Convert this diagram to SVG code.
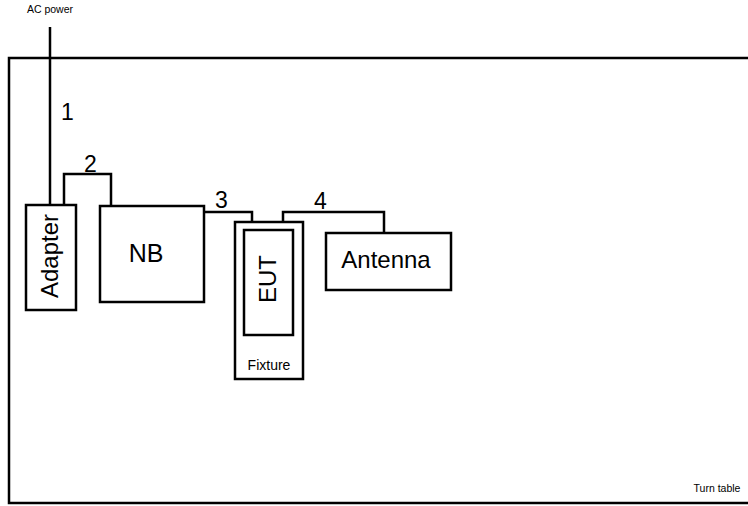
<svg xmlns="http://www.w3.org/2000/svg" width="748" height="506" viewBox="0 0 748 506">
<style>
.b{fill:none;stroke:#000;stroke-width:2.5}
.w{fill:none;stroke:#000;stroke-width:2.5}
text{font-family:"Liberation Sans",Arial,sans-serif;fill:#000}
.num{font-size:23px}
.big{font-size:24px}
.sm{font-size:10.5px}
</style>
<rect width="748" height="506" fill="#fff"/>
<g id="turntable">
<path class="b" d="M750,58 H9 V503 H750"/>
<text class="sm" x="717" y="492" text-anchor="middle">Turn table</text>
</g>
<g id="acpower">
<text class="sm" x="50" y="12.5" text-anchor="middle">AC power</text>
</g>
<g id="adapter">
<rect class="b" x="26" y="205" width="50" height="105"/>
<text class="big" transform="translate(58,256) rotate(-90)" text-anchor="middle">Adapter</text>
</g>
<g id="nb">
<rect class="b" x="100" y="206" width="104" height="96"/>
<text x="146" y="262" text-anchor="middle" style="font-size:25px">NB</text>
</g>
<g id="fixture">
<rect class="b" x="235" y="222" width="68" height="157"/>
<text x="269" y="370" text-anchor="middle" style="font-size:14px">Fixture</text>
</g>
<g id="eut">
<rect class="b" x="244" y="230" width="49" height="105"/>
<text class="big" transform="translate(276,279) rotate(-90)" text-anchor="middle">EUT</text>
</g>
<g id="antenna">
<rect class="b" x="326" y="233" width="125" height="57"/>
<text class="big" x="386" y="268" text-anchor="middle">Antenna</text>
</g>
<g id="connectors">
<path class="w" d="M50,27 V205"/>
<path class="w" d="M64,205 V174 H111 V206"/>
<path class="w" d="M204,212 H252 V222"/>
<path class="w" d="M283,222 V212 H384 V233"/>
<text class="num" x="61" y="120">1</text>
<text class="num" x="84" y="172">2</text>
<text class="num" x="215" y="208">3</text>
<text class="num" x="314" y="209">4</text>
</g>
</svg>
